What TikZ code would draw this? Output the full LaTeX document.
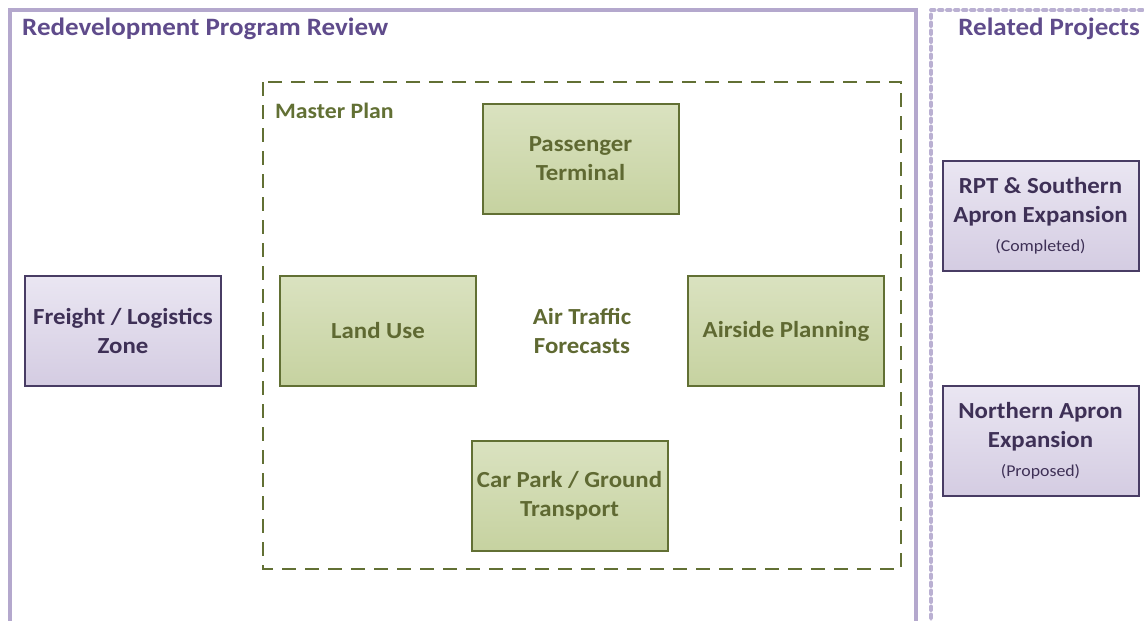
\documentclass[tikz,border=0pt]{standalone}
\usepackage{fontspec}
\setmainfont{Carlito}[FakeStretch=1.08]
\definecolor{titlepurple}{RGB}{95,75,139}
\definecolor{outerline}{RGB}{180,168,205}
\definecolor{dotline}{RGB}{186,176,210}
\definecolor{olive}{RGB}{98,112,52}
\definecolor{olivetext}{RGB}{95,105,50}
\definecolor{greentop}{RGB}{218,226,192}
\definecolor{greenbot}{RGB}{198,210,160}
\definecolor{purpletop}{RGB}{234,230,242}
\definecolor{purplebot}{RGB}{212,204,226}
\definecolor{purpleborder}{RGB}{72,60,100}
\definecolor{purpletext}{RGB}{62,48,86}
\newcommand{\notefont}{\fontsize{16.5}{20}\selectfont\mdseries}
\tikzset{
  greenbox/.style={rectangle, draw=olive, line width=2pt, top color=greentop, bottom color=greenbot,
    minimum width=196pt, minimum height=110pt, align=center, text=olivetext,
    font=\fontsize{23}{29}\selectfont\bfseries},
  purplebox/.style={rectangle, draw=purpleborder, line width=2pt, top color=purpletop, bottom color=purplebot,
    minimum width=196pt, minimum height=110pt, align=center, text=purpletext,
    font=\fontsize{23}{29}\selectfont\bfseries},
  titletext/.style={text=titlepurple, font=\fontsize{25}{29}\selectfont\bfseries, inner sep=0pt}
}
\begin{document}
\begin{tikzpicture}[x=1pt,y=-1pt]
\useasboundingbox (0,0) rectangle (1144,621);
\clip (0,0) rectangle (1144,621);
% outer panels
\draw[outerline, line width=4.5pt] (10,10) rectangle (916,650);
\draw[dotline, line width=4pt, line cap=round, dash pattern=on 3.5pt off 4.5pt] (931,650) -- (931,10) -- (1160,10);
\node[titletext, anchor=west] (title) at (22,29) {Redevelopment Program Review};
\node[titletext, anchor=east] (related) at (1140,29) {Related Projects};
% master plan
\draw[olive, line width=2.5pt, dash pattern=on 14pt off 9pt] (263,82) rectangle (901,569);
\node[anchor=west, inner sep=0pt, text=olive, font=\fontsize{22}{26}\selectfont\bfseries] (mp) at (275,111) {Master Plan};
\node[greenbox] (pt) at (580.5,159) {Passenger\\Terminal};
\node[greenbox] (lu) at (378,331) {Land Use};
\node[greenbox] (ap) at (786,331) {Airside Planning};
\node[greenbox] (cp) at (569.5,496) {Car Park / Ground\\Transport};
\node[align=center, text=olivetext, font=\fontsize{23}{29}\selectfont\bfseries] (atf) at (582,331) {Air Traffic\\Forecasts};
% purple boxes
\node[purplebox] (fl) at (123,331) {Freight / Logistics\\Zone};
\node[purplebox] (rpt) at (1040.5,216) {RPT \& Southern\\Apron Expansion\\{\notefont (Completed)}};
\node[purplebox] (na) at (1040.5,441) {Northern Apron\\Expansion\\{\notefont (Proposed)}};
\end{tikzpicture}
\end{document}
